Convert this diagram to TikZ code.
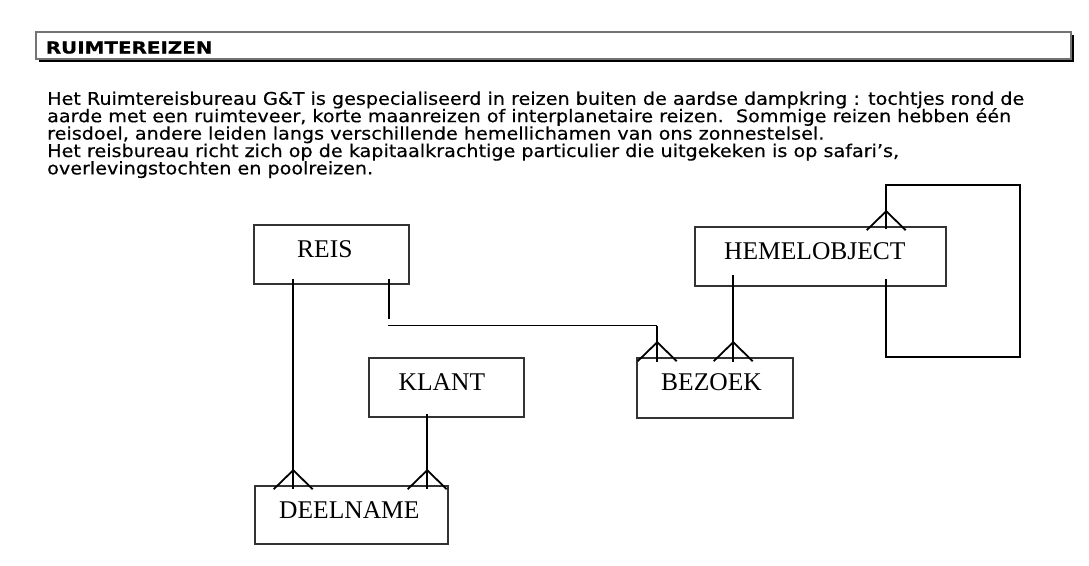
\documentclass[tikz,border=0pt]{standalone}
\usepackage{fontspec}
\setmainfont{Liberation Serif}
\newfontfamily\bodyfont[FakeBold=0.4]{DejaVu Sans}
\newfontfamily\titlefont[FakeBold=0.6]{DejaVu Sans Bold}
\usetikzlibrary{calc,shadows}
\tikzset{
  entitybox/.style 2 args={draw=black!80, line width=1.6pt, fill=none, inner sep=0pt,
    minimum width=#1, minimum height=#2},
  entitytext/.style={anchor=base west, inner sep=0pt, font=\fontsize{25.5}{30}\selectfont},
  bodyline/.style={anchor=base west, inner sep=0pt, font=\bodyfont\fontsize{17.5}{17.5}\selectfont},
  rel/.style={line width=1.8pt, draw=black},
  thinrel/.style={line width=1pt, draw=black},
  headerbox/.style={draw=black!55, line width=1.2pt, fill=white, inner sep=0pt,
    minimum width=1035pt, minimum height=27pt,
    drop shadow={shadow xshift=2.5pt, shadow yshift=-2.5pt, fill=black, opacity=1}},
}
\newcommand\crowsfoot[1]{\draw[rel] ($(#1)+(-19.5,4)$) -- ($(#1)+(0,-15)$) -- ($(#1)+(19.5,4)$);}
\newlength\firstlinewd
\begin{document}
\settowidth\firstlinewd{\bodyfont\fontsize{17.5}{17.5}\selectfont Het Ruimtereisbureau G\&T is gespecialiseerd in reizen buiten de aardse dampkring : tochtjes rond de}%
\pgfmathsetmacro\bodyscaletmp{977/\firstlinewd}%
\global\let\bodyscale\bodyscaletmp%
\begin{tikzpicture}[x=1pt,y=-1pt]
\useasboundingbox (0,0) rectangle (1089,565);

% header
\node[headerbox] (header) at (553.5,45.5) {};
\node[anchor=base west, inner sep=0pt] (title) at (45.6,53.5)
  {\resizebox{166.7pt}{\height}{\titlefont\fontsize{16.5}{18}\selectfont RUIMTEREIZEN}};

% body text
\node[bodyline] (l1) at (47,104.8) {\scalebox{\bodyscale}[1]{Het Ruimtereisbureau G\&T is gespecialiseerd in reizen buiten de aardse dampkring : tochtjes rond de}};
\node[bodyline] (l2) at (47,122.2) {\scalebox{\bodyscale}[1]{aarde met een ruimteveer, korte maanreizen of interplanetaire reizen.\ \ Sommige reizen hebben één}};
\node[bodyline] (l3) at (47,139.6) {\scalebox{\bodyscale}[1]{reisdoel, andere leiden langs verschillende hemellichamen van ons zonnestelsel.}};
\node[bodyline] (l4) at (47,157) {\scalebox{\bodyscale}[1]{Het reisbureau richt zich op de kapitaalkrachtige particulier die uitgekeken is op safari’s,}};
\node[bodyline] (l5) at (47,174.4) {\scalebox{\bodyscale}[1]{overlevingstochten en poolreizen.}};

% entities
\node[entitybox={155pt}{59pt}] (reis) at (331.5,254.5) {};
\node[entitybox={155pt}{59pt}] (klant) at (446.5,387.5) {};
\node[entitybox={193pt}{58pt}] (deelname) at (351.5,515) {};
\node[entitybox={156pt}{60pt}] (bezoek) at (715,388) {};
\node[entitybox={251pt}{59pt}] (hemel) at (820.5,256.5) {};

\node[entitytext] (reis-t) at (297,257.3) {REIS};
\node[entitytext] (klant-t) at (398.5,390.7) {KLANT};
\node[entitytext] (deelname-t) at (279,518.3) {DEELNAME};
\node[entitytext] (bezoek-t) at (661,390) {BEZOEK};
\node[entitytext] (hemel-t) at (724,259.3) {HEMELOBJECT};

% attachment points on the "many" side
\coordinate (rd) at ([xshift=39pt]deelname.north west);
\coordinate (kd) at ([xshift=173pt]deelname.north west);
\coordinate (rb) at ([xshift=21pt]bezoek.north west);
\coordinate (hb) at ([xshift=97pt]bezoek.north west);
\coordinate (hh) at ([xshift=192pt]hemel.north west);
\coordinate (rbstart) at ([xshift=135pt,yshift=-41pt]reis.south west);

% REIS - DEELNAME
\draw[rel] ([xshift=40pt,yshift=6pt]reis.south west) -- ($(rd)+(0,4)$);
\crowsfoot{rd}
% KLANT - DEELNAME
\draw[rel] ([xshift=59pt,yshift=4pt]klant.south west) -- ($(kd)+(0,4)$);
\crowsfoot{kd}
% REIS - BEZOEK
\draw[rel] ([xshift=136pt,yshift=6pt]reis.south west) -- ([xshift=136pt,yshift=-34pt]reis.south west);
\draw[thinrel] (rbstart) -- (rbstart -| rb);
\draw[rel] (rbstart -| rb) -- ($(rb)+(0,5)$);
\crowsfoot{rb}
% HEMELOBJECT - BEZOEK
\draw[rel] ([xshift=39pt,yshift=12pt]hemel.south west) -- ($(hb)+(0,5)$);
\crowsfoot{hb}
% HEMELOBJECT self relation
\draw[rel] ([xshift=192pt,yshift=8pt]hemel.south west) -- ++(0,78) -- ++(134,0) -- ++(0,-172) -| ($(hh)+(0,3)$);
\crowsfoot{hh}
\end{tikzpicture}
\end{document}
